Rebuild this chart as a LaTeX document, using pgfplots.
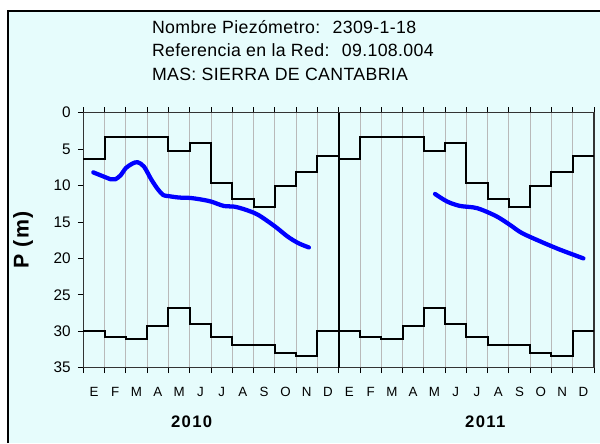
\documentclass[border=0pt]{standalone}
\usepackage{pgfplots}
\pgfplotsset{compat=1.18}
\usepackage{fontspec}
\setmainfont{Liberation Sans}
\definecolor{bgc}{RGB}{230,252,252}
\definecolor{gridc}{RGB}{185,185,185}

\begin{document}
\begin{tikzpicture}
\useasboundingbox (0pt,0pt) rectangle (450pt,332.25pt);
\fill[bgc] (6pt,0pt) rectangle (450pt,324pt);
\draw[line width=1pt] (6pt,0pt) -- (6pt,324pt) -- (450pt,324pt);
\begin{axis}[
  at={(62.5pt,56.5pt)}, anchor=south west,
  scale only axis, width=383pt, height=191.25pt,
  xmin=0, xmax=24, ymin=0, ymax=35,
  y dir=reverse,
  clip=false,
  xtick={0,...,24},
  xticklabels={E,F,M,A,M,J,J,A,S,O,N,D,E,F,M,A,M,J,J,A,S,O,N,D},
  x tick label as interval,
  ytick={0,5,...,35},
  ytick pos=left,
  xtick pos=both,
  tick align=outside,
  major tick length=4pt,
  tick style={black, line width=0.6pt},
  xmajorgrids, major grid style={gridc, line width=0.6pt},
  axis line style={black!80, line width=0.8pt},
  /pgf/number format/assume math mode=true,
  yticklabel style={font=\fontsize{11.5}{13}\selectfont, xshift=-2pt},
  xticklabel style={font=\fontsize{10}{12}\selectfont\addfontfeature{LetterSpace=4}, yshift=-7pt},
  ylabel={\fontsize{16}{19}\selectfont\bfseries\addfontfeature{LetterSpace=6}P (m)},
  ylabel style={at={(axis description cs:-0.118,0.5)}, anchor=center},
]
% historical minimum depth (monthly steps)
\addplot[const plot, black, line width=1.5pt] coordinates {
  (0,6.3) (1,3.4) (2,3.4) (3,3.4) (4,5.2) (5,4.2) (6,9.7) (7,11.9) (8,12.9) (9,10.0) (10,8.2) (11,6.0)
  (12,6.3) (13,3.4) (14,3.4) (15,3.4) (16,5.2) (17,4.2) (18,9.7) (19,11.9) (20,12.9) (21,10.0) (22,8.2) (23,6.0)
  (24,6.0)
};
% historical maximum depth
\addplot[const plot, black, line width=1.5pt] coordinates {
  (0,29.9) (1,30.8) (2,31.1) (3,29.3) (4,26.8) (5,29.0) (6,30.8) (7,31.9) (8,31.9) (9,33.0) (10,33.4) (11,29.9)
  (12,29.9) (13,30.8) (14,31.1) (15,29.3) (16,26.8) (17,29.0) (18,30.8) (19,31.9) (20,31.9) (21,33.0) (22,33.4) (23,29.9)
  (24,29.9)
};
% measured level 2010
\addplot[smooth, tension=0.5, blue, line width=3.2pt, line cap=round] coordinates {
  (0.47,8.2) (0.9,8.7) (1.3,9.15) (1.5,9.15) (1.75,8.6) (2.0,7.6) (2.3,7.0) (2.55,6.8) (2.85,7.4)
  (3.2,9.2) (3.5,10.5) (3.75,11.3) (4.0,11.45) (4.5,11.65) (5.0,11.7) (5.5,11.9) (6.0,12.2)
  (6.6,12.8) (7.1,12.9) (7.6,13.3) (8.2,14.0) (9.0,15.6) (9.6,17.0) (10.1,17.9) (10.6,18.5)
};
% measured level 2011
\addplot[smooth, tension=0.5, blue, line width=3.2pt, line cap=round] coordinates {
  (16.53,11.16) (17.1,12.2) (17.7,12.8) (18.5,13.1) (19.4,14.2) (20.05,15.4) (20.6,16.5)
  (21.5,17.7) (22.4,18.8) (23.5,20.0)
};
\draw[black, line width=1.5pt] (axis cs:12,0) -- (axis cs:12,35);
\node[font=\fontsize{12.5}{14}\selectfont\bfseries\addfontfeature{LetterSpace=8}] at (axis description cs:0.212,-0.212) {2010};
\node[font=\fontsize{12.5}{14}\selectfont\bfseries\addfontfeature{LetterSpace=8}] at (axis description cs:0.787,-0.212) {2011};
\end{axis}
\begin{scope}[every node/.style={anchor=west, inner sep=0pt, font=\fontsize{13.3}{15}\selectfont\addfontfeature{LetterSpace=2}}]
\node at (113.8pt,312.2pt) {Nombre Piezómetro:~ 2309-1-18};
\node at (113.8pt,294.75pt) {Referencia en la Red:~ 09.108.004};
\node at (113.8pt,276.75pt) {MAS: SIERRA DE CANTABRIA};
\end{scope}
\end{tikzpicture}
\end{document}
